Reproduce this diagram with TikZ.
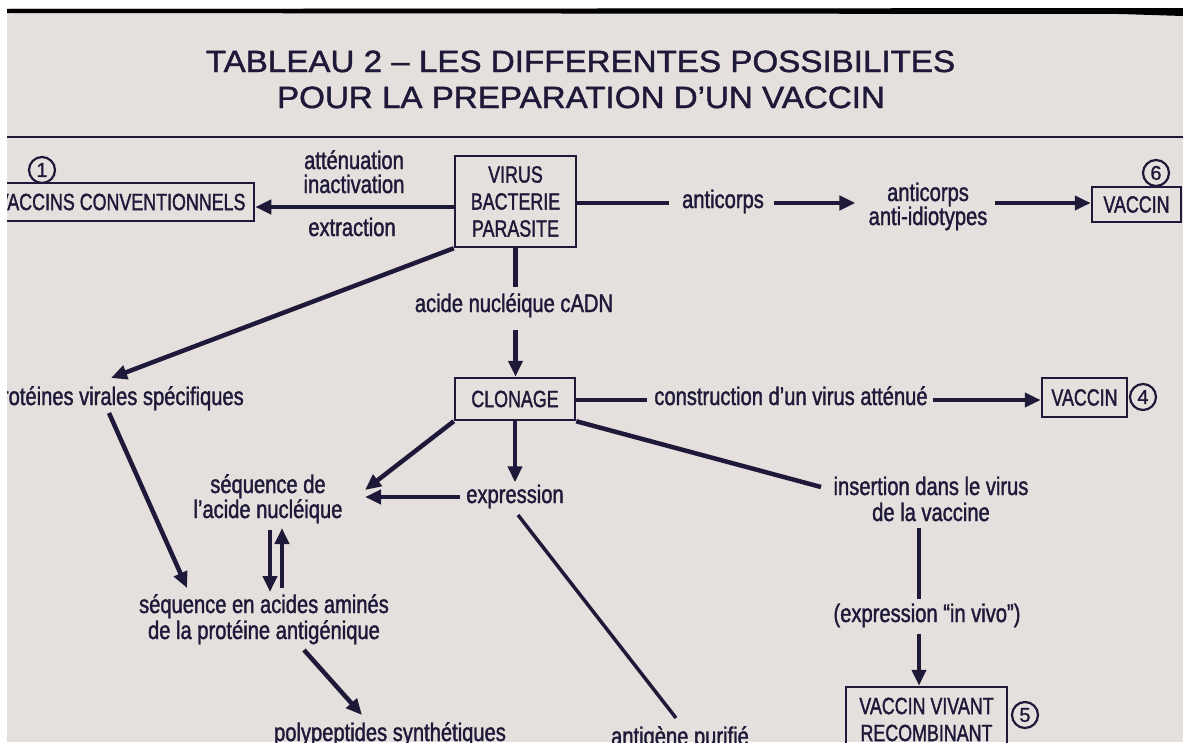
\documentclass[tikz,border=0pt]{standalone}
\usepackage{fontspec}
\setmainfont{Liberation Sans}
\newfontfamily\bodyfont{Liberation Sans}[FakeStretch=0.79,FakeBold=1.4]
\newfontfamily\boxfont{Liberation Sans}[FakeStretch=0.76,FakeBold=1.4]
\newfontfamily\titlefont{Liberation Sans}[FakeStretch=1.08,FakeBold=1.4]
\newfontfamily\digitfont{Liberation Sans}[FakeBold=1.2]
\usetikzlibrary{arrows.meta}
\definecolor{paper}{RGB}{229,224,221}
\definecolor{ink}{RGB}{30,25,56}

\begin{document}
\begin{tikzpicture}[x=1pt,y=-1pt,
  every node/.style={text=ink, inner sep=0pt},
  txt/.style={font=\bodyfont\fontsize{25.5}{26}\selectfont, anchor=base},
  boxed/.style={draw=ink, line width=2.5pt, font=\boxfont\fontsize{23.5}{27}\selectfont, align=center},
  num/.style={draw=ink, circle, line width=2.2pt, minimum size=26pt, font=\digitfont\fontsize{20}{20}\selectfont},
  link/.style={draw=ink, line width=4.5pt},
  arr/.style={link, -{Triangle[length=16pt,width=14pt]}},
]
\useasboundingbox (0,0) rectangle (1183,742);
\clip (0,0) rectangle (1183,742);
\fill[paper] (0,0) rectangle (1183,742);

% heading
\node[font=\titlefont\fontsize{30.7}{31}\selectfont, anchor=base] (title1) at (580.5,72) {TABLEAU 2 – LES DIFFERENTES POSSIBILITES};
\node[font=\titlefont\fontsize{30.7}{31}\selectfont, anchor=base] (title2) at (581,108) {POUR LA PREPARATION D’UN VACCIN};
\draw[ink, line width=2.5pt] (7,137) -- (1183,137);

% boxes
\node[boxed, minimum width=264pt, minimum height=38pt] (conv) at (122,202) {\makebox[247pt][r]{VACCINS CONVENTIONNELS}};
\node[boxed, minimum width=121pt, minimum height=91pt] (src) at (515.5,201.5) {VIRUS\\BACTERIE\\PARASITE};
\node[boxed, minimum width=89pt, minimum height=35pt] (vac6) at (1136.5,204.5) {VACCIN};
\node[boxed, minimum width=120pt, minimum height=42pt] (clon) at (515,399) {CLONAGE};
\node[boxed, minimum width=85pt, minimum height=39pt] (vac4) at (1084.5,397.5) {VACCIN};
\node[boxed, minimum width=161pt, minimum height=65pt] (vivant) at (926.5,719.5) {VACCIN VIVANT\\RECOMBINANT};

% numbered circles
\node[num] (n1) at (42,170) {1};
\node[num] (n6) at (1156,173) {6};
\node[num] (n4) at (1143,397) {4};
\node[num] (n5) at (1025,715) {5};

% labels
\node[txt] (atten) at (354,169) {atténuation};
\node[txt] (inact) at (354,193) {inactivation};
\node[txt] (extr) at (352,236) {extraction};
\node[txt] (anti1) at (723,208) {anticorps};
\node[txt] (aid1) at (928,201) {anticorps};
\node[txt] (aid2) at (928,225) {anti-idiotypes};
\node[txt] (acide) at (514,312) {acide nucléique cADN};
\node[txt, anchor=base east] (prot) at (244,405) {protéines virales spécifiques};
\node[txt] (seq1) at (268,493) {séquence de};
\node[txt] (seq2) at (268,518) {l’acide nucléique};
\node[txt] (expr) at (515,503) {expression};
\node[txt] (aa1) at (264,613) {séquence en acides aminés};
\node[txt] (aa2) at (264,639) {de la protéine antigénique};
\node[txt] (poly) at (390,741) {polypeptides synthétiques};
\node[txt] (antig) at (680,745) {antigène purifié};
\node[txt] (cons) at (791,405) {construction d’un virus atténué};
\node[txt] (ins1) at (931,495) {insertion dans le virus};
\node[txt] (ins2) at (931,521) {de la vaccine};
\node[txt] (invivo) at (927,622) {(expression “in vivo”)};

% rows, columns and free ends of the connectors
\coordinate (rowA) at (0,207);
\coordinate (rowB) at (0,203);
\coordinate (rowC) at (0,400);
\coordinate (rowD) at (0,497);
\coordinate (colR) at (919,0);
\coordinate (protIn) at (111,378);
\coordinate (protOut) at (109,413);
\coordinate (aaIn) at (187,588);
\coordinate (aaOut) at (304,650);
\coordinate (polyIn) at (362,715);
\coordinate (seqIn) at (365,490);
\coordinate (exprOut) at (518,515);
\coordinate (antigIn) at (676,718);
\coordinate (insIn) at (821,487);
\coordinate (dnA) at (270,530);
\coordinate (dnB) at (270,592);
\coordinate (upA) at (282,588);
\coordinate (upB) at (282,528);

% connectors
\draw[arr] (src.west |- rowA) -- (conv.east |- rowA);
\draw[link, shorten >=13pt] (src.east |- rowB) -- (anti1.west |- rowB);
\draw[arr, shorten <=10pt, shorten >=13pt] (anti1.east |- rowB) -- (aid2.west |- rowB);
\draw[arr, shorten <=7pt] (aid2.east |- rowB) -- (vac6.west |- rowB);
\draw[link, shorten >=6pt] (src.south) -- (src.south |- acide.north);
\draw[arr, shorten <=13pt] (src.south |- acide.south) -- (src.south |- clon.north);
\draw[arr] (src.south west) -- (protIn);
\draw[arr] (protOut) -- (aaIn);
\draw[arr] (dnA) -- (dnB);
\draw[arr] (upA) -- (upB);
\draw[arr] (aaOut) -- (polyIn);
\draw[arr] (clon.south west) -- (seqIn);
\draw[arr, shorten >=2pt] (clon.south) -- (clon.south |- expr.north);
\draw[arr, shorten <=6pt] (expr.west |- rowD) -- (seqIn |- rowD);
\draw[link, line width=3.5pt] (exprOut) -- (antigIn);
\draw[link, shorten >=7pt] (clon.east |- rowC) -- (cons.west |- rowC);
\draw[arr, shorten <=5pt] (cons.east |- rowC) -- (vac4.west |- rowC);
\draw[link] (clon.south east) -- (insIn);
\draw[link, shorten <=7pt, shorten >=4pt] (colR |- ins2.south) -- (colR |- invivo.north);
\draw[arr, shorten <=6pt] (colR |- invivo.south) -- (colR |- vivant.north);

% film edges
\fill[white] (0,0) rectangle (1183,8);
\fill[black] (7,9) -- (1183,8) -- (1183,16) -- (1120,14) -- (7,13) -- cycle;
\fill[white] (0,0) rectangle (7,742);
\end{tikzpicture}
\end{document}
